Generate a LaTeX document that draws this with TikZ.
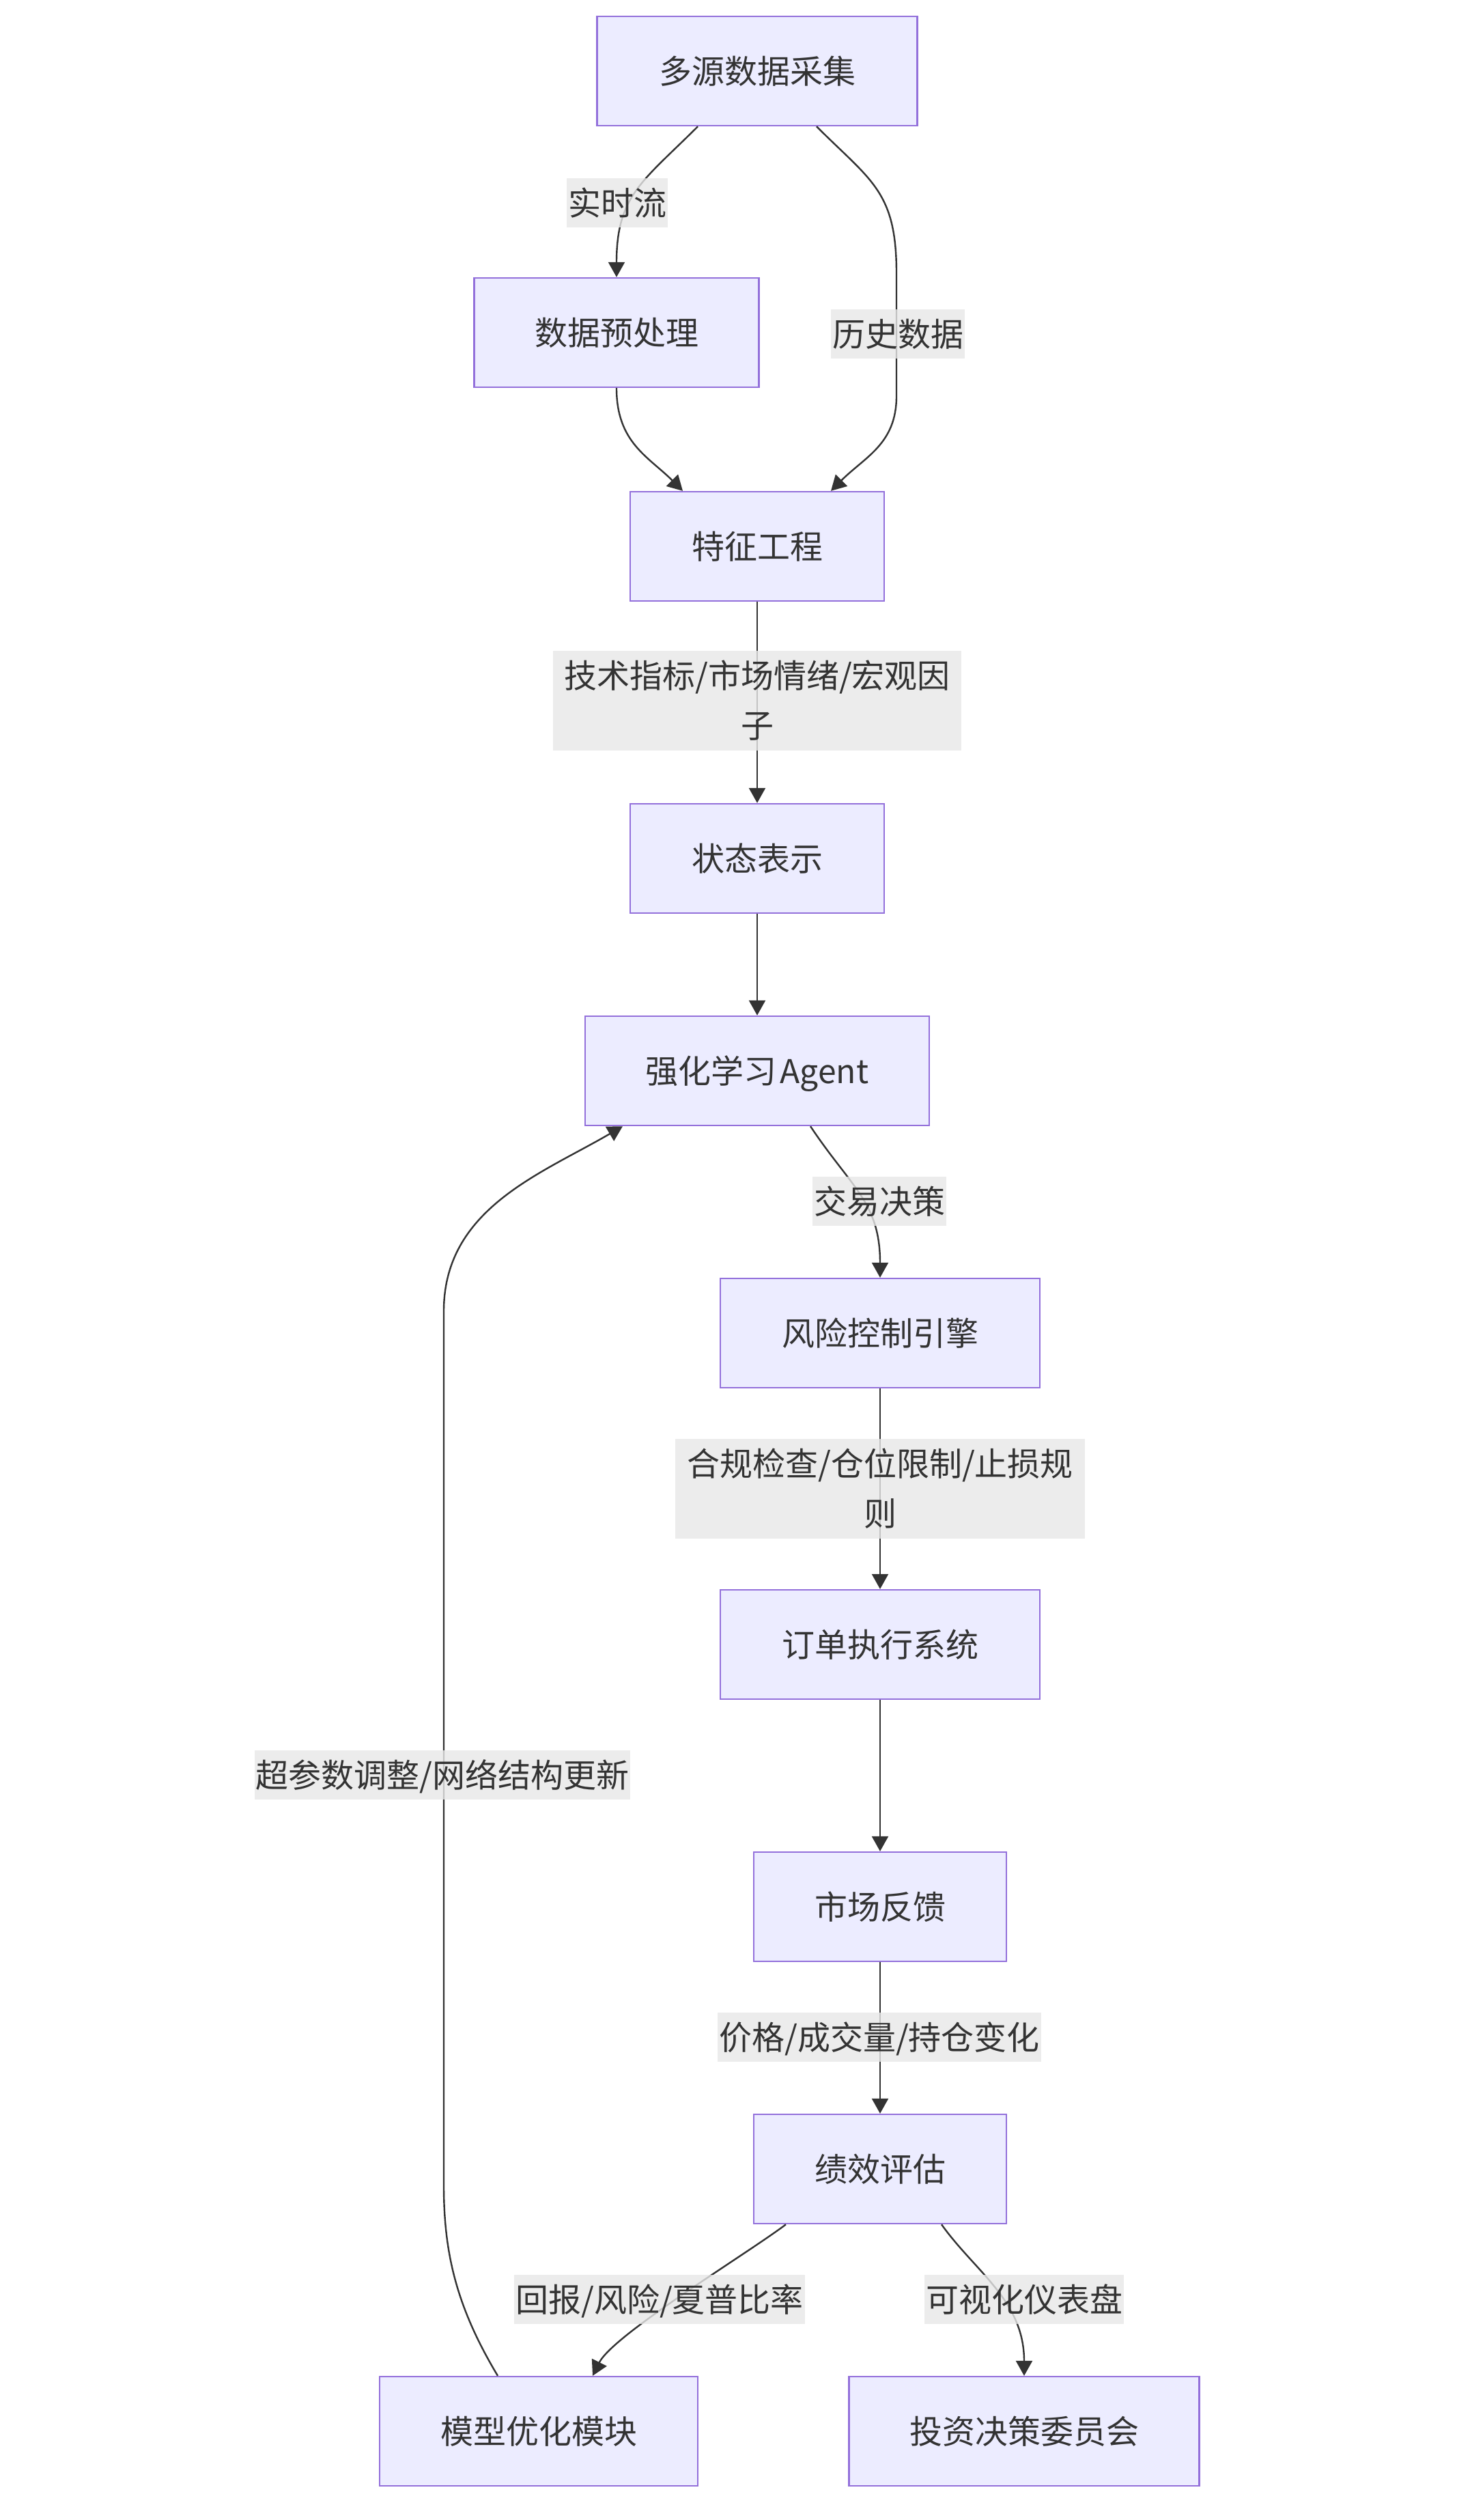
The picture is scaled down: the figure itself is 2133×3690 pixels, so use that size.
\documentclass[tikz,border=0pt]{standalone}
\usepackage{fontspec}
\setmainfont{Noto Sans CJK SC}
\usetikzlibrary{arrows.meta,calc}
\definecolor{nodefill}{HTML}{ECECFF}
\definecolor{nodeline}{HTML}{9370DB}
\definecolor{txt}{HTML}{333333}
\definecolor{lblbg}{HTML}{E8E8E8}
\begin{document}
\begin{tikzpicture}[x=0.5pt,y=-0.5pt,
  box/.style={draw=nodeline, fill=nodefill, line width=1.2pt, minimum height=80pt,
    inner sep=0pt, text=txt, text height=20pt, text depth=2pt,
    font=\fontsize{24pt}{36pt}\selectfont},
  lbl/.style={fill=lblbg, fill opacity=0.8, text opacity=1, text=txt, inner xsep=1pt,
    inner ysep=0pt, text height=27pt, text depth=9pt, font=\fontsize{24pt}{36pt}\selectfont},
  lbltwo/.style={fill=lblbg, fill opacity=0.8, text opacity=1, text=txt, inner sep=0pt,
    align=center, minimum height=73pt, font=\fontsize{24pt}{36.5pt}\selectfont},
  edge/.style={draw=txt, line width=1.2pt, -{Triangle[length=11pt,width=12pt]}}]

\fill[white] (0,0) rectangle (2133,3690);
\useasboundingbox (0,0) rectangle (2133,3690);

% nodes
\node[box, minimum width=234.5pt] (n1) at (1109,104) {多源数据采集};
\node[box, minimum width=208.5pt] (n2) at (903,487) {数据预处理};
\node[box, minimum width=186pt] (n3) at (1109,800) {特征工程};
\node[box, minimum width=186pt] (n4) at (1109,1257) {状态表示};
\node[box, minimum width=252pt] (n5) at (1109,1568) {强化学习\hspace{2.5pt}Agent};
\node[box, minimum width=234pt] (n6) at (1289,1952) {风险控制引擎};
\node[box, minimum width=234pt] (n7) at (1289,2408) {订单执行系统};
\node[box, minimum width=185pt] (n8) at (1289,2792) {市场反馈};
\node[box, minimum width=185pt] (n9) at (1289,3176) {绩效评估};
\node[box, minimum width=233pt] (n10) at (789,3560) {模型优化模块};
\node[box, minimum width=256.5pt] (n11) at (1500,3560) {投资决策委员会};

% edges
\draw[edge] ($(n1.south)+(-87,0)$) .. controls +(-80,80) and +(0,-120) .. (n2.north);
\draw[edge] ($(n1.south)+(87,0)$) .. controls +(80,80) and +(0,-120) .. (1313,400)
  -- (1313,580) .. controls +(0,70) and +(50,-50) .. ($(n3.north)+(108,0)$);
\draw[edge] (n2.south) .. controls +(0,80) and +(-50,-50) .. ($(n3.north)+(-109,0)$);
\draw[edge] (n3) -- (n4);
\draw[edge] (n4) -- (n5);
\draw[edge] ($(n5.south)+(78,0)$) .. controls +(60,90) and +(0,-110) .. (n6.north);
\draw[edge] (n6) -- (n7);
\draw[edge] (n7) -- (n8);
\draw[edge] (n8) -- (n9);
\draw[edge] ($(n9.south)+(-138,0)$) .. controls +(-60,45) and +(30,-60) .. ($(n10.north)+(79,0)$);
\draw[edge] ($(n9.south)+(90,0)$) .. controls +(50,70) and +(0,-110) .. (n11.north);
\draw[edge] ($(n10.north)+(-60,0)$) .. controls +(-60,-100) and +(0,100) .. (650,3200)
  -- (650,1920) .. controls +(0,-150) and +(-120,70) .. ($(n5.south)+(-197,0)$);

% edge labels
\node[lbl] (l1) at (904,297) {实时流};
\node[lbl] (l2) at (1315,489) {历史数据};
\node[lbltwo, minimum width=299pt] (l3) at (1109,1026) {技术指标/市场情绪/宏观因\\子};
\node[lbl] (l4) at (1288,1759) {交易决策};
\node[lbltwo, minimum width=300pt] (l5) at (1289,2180) {合规检查/仓位限制/止损规\\则};
\node[lbl] (l6) at (648,2599) {超参数调整/网络结构更新};
\node[lbl] (l7) at (1288,2983) {价格/成交量/持仓变化};
\node[lbl] (l8) at (966,3367) {回报/风险/夏普比率};
\node[lbl] (l9) at (1500,3367) {可视化仪表盘};
\end{tikzpicture}
\end{document}
